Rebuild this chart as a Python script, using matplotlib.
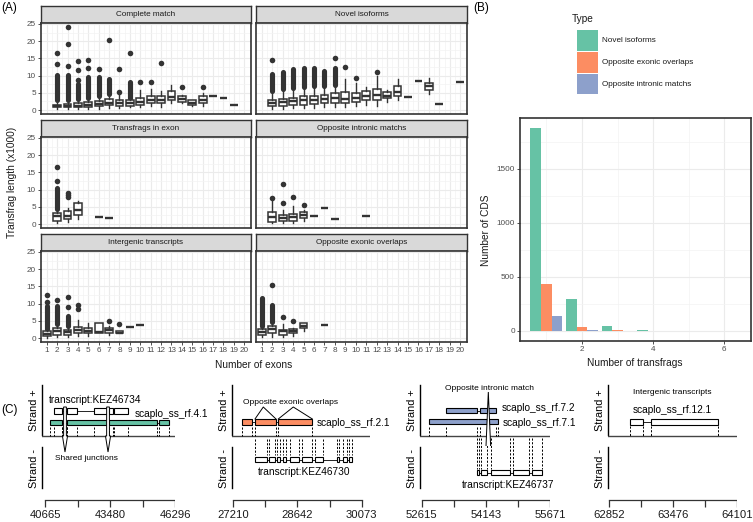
import numpy as np
import matplotlib
matplotlib.use('Agg')
import matplotlib.pyplot as plt
from matplotlib.patches import Rectangle, Polygon

plt.rcParams['font.family'] = ['Liberation Sans', 'DejaVu Sans']

# ---------------- Panel A data (transfrag length x1000) ----------------
# Complete match
CM_X   = [2, 3, 4, 5, 6, 7, 8, 9, 10, 11, 12, 13, 14, 15, 16]
CM_Q1  = [0.8, 0.8, 0.9, 1.0, 1.2, 1.5, 1.2, 1.2, 1.5, 1.9, 1.9, 2.9, 2.4, 1.4, 1.9]
CM_MED = [1.1, 1.2, 1.3, 1.5, 1.8, 2.1, 1.9, 1.9, 2.4, 3.0, 2.9, 3.8, 3.3, 2.0, 3.0]
CM_Q3  = [1.6, 1.8, 2.0, 2.3, 2.7, 3.1, 2.9, 2.9, 3.4, 4.1, 4.1, 5.5, 4.1, 2.9, 4.1]
CM_WLO = [0.2, 0.2, 0.3, 0.3, 0.4, 0.6, 0.7, 0.8, 0.9, 1.2, 1.0, 2.1, 2.0, 1.3, 1.2]
CM_WHI = [2.8, 3.0, 3.3, 3.6, 4.0, 4.7, 4.3, 3.4, 5.8, 6.2, 5.5, 7.3, 4.3, 2.9, 5.0]
CM_DENSE = [10.2, 10.2, 7.5, 9.5, 9.6, 9.0, 0, 8.2, 0, 0, 0, 0, 0, 0, 0]
CM_OUT = [[13.3, 16.5], [12.9, 19.2, 24.0], [8.7, 11.6, 14.2], [12.1, 14.6], [11.9],
          [20.4], [5.3, 12.0], [16.5], [8.2], [8.2], [13.8], [], [6.8], [], [6.8]]
CM_FLAT_X = [17, 18, 19]
CM_FLAT_Y = [4.1, 3.6, 1.5]

# Novel isoforms
NI_X   = [2, 3, 4, 5, 6, 7, 8, 9, 10, 11, 12, 13, 14, 17]
NI_Q1  = [1.2, 1.3, 1.4, 1.5, 1.7, 1.9, 2.0, 2.1, 2.4, 2.9, 2.8, 3.4, 4.2, 5.8]
NI_MED = [2.1, 2.3, 2.5, 2.8, 3.0, 3.2, 3.4, 3.3, 3.6, 4.1, 4.3, 4.2, 5.3, 7.0]
NI_Q3  = [2.9, 3.3, 3.6, 4.0, 4.2, 4.3, 4.8, 5.2, 4.8, 5.6, 6.1, 5.2, 6.9, 7.9]
NI_WLO = [0.4, 0.4, 0.5, 0.6, 0.7, 0.8, 0.8, 1.0, 1.2, 1.5, 1.3, 2.4, 3.0, 4.7]
NI_WHI = [5.5, 6.0, 6.3, 6.8, 7.0, 6.9, 7.2, 8.9, 7.8, 6.6, 9.9, 5.8, 8.9, 9.2]
NI_DENSE = [10.5, 11.0, 11.9, 12.2, 12.2, 11.2, 12.1, 0, 0, 0, 0, 0, 0, 0]
NI_OUT = [[14.5], [], [], [], [], [], [15.2], [12.4], [9.2], [], [11.0], [], [], []]
NI_FLAT_X = [15, 16, 18, 20]
NI_FLAT_Y = [3.7, 8.4, 1.7, 8.2]

# Transfrags in exon
TE_X   = [2, 3, 4]
TE_Q1  = [1.0, 1.4, 2.6]
TE_MED = [2.3, 2.4, 4.1]
TE_Q3  = [3.3, 3.8, 6.1]
TE_WLO = [0.2, 0.5, 1.6]
TE_WHI = [4.4, 4.7, 6.8]
TE_DENSE = [10.4, 0, 0]
TE_OUT = [[12.6, 16.7], [7.8, 8.4, 9.0], []]
TE_FLAT_X = [6, 7]
TE_FLAT_Y = [2.1, 1.8]

# Opposite intronic matchs
OI_X   = [2, 3, 4, 5]
OI_Q1  = [0.7, 1.0, 1.0, 1.7]
OI_MED = [1.9, 1.8, 1.9, 2.6]
OI_Q3  = [3.6, 2.6, 3.0, 3.6]
OI_WLO = [0.2, 0.4, 0.3, 1.0]
OI_WHI = [6.8, 4.1, 5.2, 4.0]
OI_DENSE = [0, 0, 0, 0]
OI_OUT = [[7.6], [6.0, 11.5], [7.9], [5.6]]
OI_FLAT_X = [6, 7, 8, 11]
OI_FLAT_Y = [2.3, 4.6, 1.6, 2.4]

# Intergenic transcripts
IT_X   = [1, 2, 3, 4, 5, 6, 7, 8]
IT_Q1  = [0.5, 1.0, 1.0, 1.4, 1.4, 1.4, 1.4, 1.4]
IT_MED = [1.2, 2.0, 1.7, 2.4, 2.0, 1.8, 2.2, 1.6]
IT_Q3  = [1.9, 2.8, 2.4, 3.3, 2.8, 4.4, 2.8, 1.9]
IT_WLO = [0.1, 0.3, 0.3, 0.5, 0.7, 1.4, 1.0, 1.4]
IT_WHI = [2.6, 4.1, 3.6, 5.2, 4.4, 4.4, 3.6, 1.9]
IT_DENSE = [9.4, 9.4, 6.5, 0, 0, 0, 0, 0]
IT_OUT = [[10.4, 12.6], [11.0], [8.9, 11.8], [8.4, 9.6], [], [], [5.0], [4.1]]
IT_FLAT_X = [9, 10]
IT_FLAT_Y = [3.1, 3.9]

# Opposite exonic overlaps
OE_X   = [1, 2, 3, 4, 5]
OE_Q1  = [1.0, 1.5, 1.0, 1.4, 2.9]
OE_MED = [1.8, 2.6, 1.9, 1.9, 3.6]
OE_Q3  = [2.6, 3.6, 2.4, 2.5, 4.4]
OE_WLO = [0.3, 0.4, 0.4, 0.7, 1.9]
OE_WHI = [3.6, 4.6, 4.1, 2.8, 4.4]
OE_DENSE = [11.6, 9.6, 0, 0, 0]
OE_OUT = [[], [15.5], [6.0], [4.8], []]
OE_FLAT_X = [7]
OE_FLAT_Y = [3.9]

EXON_TICKS = list(range(1, 21))

# ---------------- Panel B data ----------------
N_TRANSFRAGS = [1, 2, 3, 4, 5, 6]
CDS_NOVEL    = [1874, 297, 42, 10, 3, 2]
CDS_EXONIC   = [433, 31, 8, 3, 1, 1]
CDS_INTRONIC = [133, 4, 1, 1, 1, 1]
TYPE_LABELS = ['Novel isoforms', 'Opposite exonic overlaps', 'Opposite intronic matchs']

# ---------------- Panel C data (genomic coordinates) ----------------
C1_TICKS = [40665, 43480, 46296]
C1_RF    = [(40880, 41390), (41630, 43340), (43450, 45500), (45600, 46050)]
C1_KEZ   = [(41070, 41410), (41600, 42070), (42800, 43340), (43450, 43620), (43640, 44250)]
C1_SHARED = [41531, 43395]

C2_TICKS = [27210, 28642, 30073]
C2_RF    = [(27411, 27620), (27694, 28162), (28213, 28972)]
C2_KEZ   = [(27694, 27955), (28013, 28147), (28192, 28252), (28312, 28386), (28475, 28682),
            (28736, 28959), (29032, 29204), (29516, 29574), (29663, 29739), (29780, 29851)]

C3_TICKS = [52615, 54143, 55671]
C3_RF2   = [(53194, 53924), (54003, 54376)]
C3_RF1   = [(52796, 54162), (54217, 54424)]
C3_KEZ   = [(53926, 53981), (54022, 54181), (54276, 54719), (54800, 55171), (55252, 55473)]
C3_MATCH = 54202

C4_TICKS = [62852, 63476, 64101]
C4_RF    = [(63055, 63179), (63260, 63914)]

GREEN, ORANGE, BLUE = '#66C2A5', '#FC8D62', '#8DA0CB'
DARK = '#333333'

W, H = 753, 522
fig = plt.figure(figsize=(W / 100, H / 100), dpi=100)


def px_axes(x0, y0, x1, y1, **kw):
    return fig.add_axes([x0 / W, 1 - y1 / H, (x1 - x0) / W, (y1 - y0) / H], **kw)


def ftext(x, y, s, **kw):
    return fig.text(x / W, 1 - y / H, s, **kw)


SMALL = 5.9
TITLE = 7.3


def facet(xcol, yrow, title, xs, q1, med, q3, wlo, whi, dense, outs, fx, fy,
          left_ticks, bottom_ticks):
    x0, x1 = xcol
    strip = px_axes(x0, yrow, x1, yrow + 17)
    strip.set_facecolor('#D9D9D9')
    strip.set_xticks([]); strip.set_yticks([])
    for s in strip.spines.values():
        s.set_color(DARK); s.set_linewidth(1.0)
    strip.text(0.5, 0.5, title, ha='center', va='center', fontsize=SMALL, color='#1A1A1A')

    ax = px_axes(x0, yrow + 17, x1, yrow + 108)
    ax.set_xlim(0.45, 20.65)
    ax.set_ylim(-1.16, 25.29)
    ax.set_xticks(EXON_TICKS)
    ax.set_xticks(np.arange(1.5, 20, 1), minor=True)
    ax.set_yticks([0, 5, 10, 15, 20, 25])
    ax.set_yticks([2.5, 7.5, 12.5, 17.5, 22.5], minor=True)
    ax.grid(which='major', color='#EBEBEB', lw=0.8, zorder=0)
    ax.grid(which='minor', color='#F3F3F3', lw=0.5, zorder=0)
    ax.set_axisbelow(True)
    for s in ax.spines.values():
        s.set_color(DARK); s.set_linewidth(1.2)
    ax.tick_params(which='minor', length=0)
    ax.tick_params(which='major', length=2.2, width=0.6, color=DARK,
                   labelsize=SMALL, labelcolor='#4D4D4D', pad=1.5)
    if not left_ticks:
        ax.tick_params(axis='y', length=0, labelleft=False)
    if not bottom_ticks:
        ax.tick_params(axis='x', length=0, labelbottom=False)

    for x, top, lo in zip(xs, dense, whi):
        if top:
            ax.plot([x, x], [lo, top], lw=3.7, color=DARK, solid_capstyle='round', zorder=2)
    for x, o in zip(xs, outs):
        if o:
            ax.plot([x] * len(o), o, 'o', ms=4.0, color=DARK, mec='none', zorder=2)
    stats = [dict(q1=a, med=b, q3=c, whislo=d, whishi=e, fliers=[])
             for a, b, c, d, e in zip(q1, med, q3, wlo, whi)]
    stats += [dict(q1=v, med=v, q3=v, whislo=v, whishi=v, fliers=[]) for v in fy]
    ax.bxp(stats, positions=list(xs) + list(fx), widths=0.75, showfliers=False,
           showcaps=False, patch_artist=True, manage_ticks=False,
           boxprops=dict(facecolor='white', edgecolor=DARK, lw=1.1),
           medianprops=dict(color=DARK, lw=1.7),
           whiskerprops=dict(color=DARK, lw=1.0), zorder=3)
    return ax


LC, RC = (41, 251), (256, 467)
facet(LC, 6, 'Complete match', CM_X, CM_Q1, CM_MED, CM_Q3, CM_WLO, CM_WHI, CM_DENSE, CM_OUT,
      CM_FLAT_X, CM_FLAT_Y, True, False)
facet(RC, 6, 'Novel isoforms', NI_X, NI_Q1, NI_MED, NI_Q3, NI_WLO, NI_WHI, NI_DENSE, NI_OUT,
      NI_FLAT_X, NI_FLAT_Y, False, False)
facet(LC, 120, 'Transfrags in exon', TE_X, TE_Q1, TE_MED, TE_Q3, TE_WLO, TE_WHI, TE_DENSE, TE_OUT,
      TE_FLAT_X, TE_FLAT_Y, True, False)
facet(RC, 120, 'Opposite intronic matchs', OI_X, OI_Q1, OI_MED, OI_Q3, OI_WLO, OI_WHI, OI_DENSE,
      OI_OUT, OI_FLAT_X, OI_FLAT_Y, False, False)
facet(LC, 234, 'Intergenic transcripts', IT_X, IT_Q1, IT_MED, IT_Q3, IT_WLO, IT_WHI, IT_DENSE,
      IT_OUT, IT_FLAT_X, IT_FLAT_Y, True, True)
facet(RC, 234, 'Opposite exonic overlaps', OE_X, OE_Q1, OE_MED, OE_Q3, OE_WLO, OE_WHI, OE_DENSE,
      OE_OUT, OE_FLAT_X, OE_FLAT_Y, False, True)

ftext(12, 182, 'Transfrag length (x1000)', rotation=90, ha='center', va='center',
      fontsize=TITLE, color='#1A1A1A')
ftext(254, 365, 'Number of exons', ha='center', va='center', fontsize=TITLE, color='#1A1A1A')
ftext(1, 8, '(A)', ha='left', va='center', fontsize=8.5)
ftext(473, 8, '(B)', ha='left', va='center', fontsize=8.5)
ftext(1, 410, '(C)', ha='left', va='center', fontsize=8.5)

# ---------------- Panel B ----------------
axb = px_axes(520, 118, 751, 341)
xb = np.array(N_TRANSFRAGS, dtype=float)
bw = 0.3
for off, vals, col in [(-bw, CDS_NOVEL, GREEN), (0, CDS_EXONIC, ORANGE), (bw, CDS_INTRONIC, BLUE)]:
    axb.bar(xb + off, vals, width=bw, color=col, zorder=3)
axb.set_xlim(0.26, 6.75)
axb.set_ylim(-94, 1968)
axb.set_xticks([2, 4, 6])
axb.set_xticks([1, 3, 5], minor=True)
axb.set_yticks([0, 500, 1000, 1500])
axb.set_yticks([250, 750, 1250, 1750], minor=True)
axb.grid(which='major', color='#EBEBEB', lw=0.8)
axb.grid(which='minor', color='#F3F3F3', lw=0.5)
axb.set_axisbelow(True)
for s in axb.spines.values():
    s.set_color(DARK); s.set_linewidth(1.2)
axb.tick_params(which='minor', length=0)
axb.tick_params(which='major', length=2.2, width=0.6, color=DARK, labelsize=SMALL,
                labelcolor='#4D4D4D', pad=1.5)
ftext(486, 230, 'Number of CDS', rotation=90, ha='center', va='center', fontsize=TITLE,
      color='#1A1A1A')
ftext(635, 363, 'Number of transfrags', ha='center', va='center', fontsize=TITLE, color='#1A1A1A')

# legend
ftext(572, 19.5, 'Type', ha='left', va='center', fontsize=TITLE, color='#1A1A1A')
leg = px_axes(570, 28, 700, 98)
leg.set_xlim(570, 700); leg.set_ylim(98, 28); leg.axis('off')
for i, (lab, col) in enumerate(zip(TYPE_LABELS, [GREEN, ORANGE, BLUE])):
    y0 = 30 + i * 21.8
    leg.add_patch(Rectangle((577, y0), 21, 20.8, facecolor=col, edgecolor='none'))
    leg.text(602, y0 + 10.4, lab, ha='left', va='center', fontsize=SMALL, color='#1A1A1A')


# ---------------- Panel C ----------------
def exons(ax, ex, ytop, h, fc, lw=0.8):
    for s, e in ex:
        ax.add_patch(Rectangle((s, ytop), e - s, h, facecolor=fc, edgecolor='black', lw=lw, zorder=3))
    for (s1, e1), (s2, e2) in zip(ex[:-1], ex[1:]):
        ax.plot([e1, s2], [ytop + h / 2, ytop + h / 2], color='black', lw=0.6, zorder=2)


def bounds(ex):
    out = []
    for s, e in ex:
        out += [s, e]
    return out


LAB = 7.3
NOTE = 6.0


def subpanel(px0, px1, gL, gR, ticks):
    ax = px_axes(px0, 378, px1, 522)
    ax.set_xlim(gL, gR); ax.set_ylim(522, 378); ax.axis('off')
    ax.plot([gL, gL], [385, 435], color='black', lw=1.0, clip_on=False)
    ax.plot([gL, gL], [447, 488], color='black', lw=1.0, clip_on=False)
    ax.plot([gL, gR], [436, 436], color='#444444', lw=1.0)
    tk = np.linspace(ticks[0], ticks[-1], 5)
    ax.plot([tk[0], tk[-1]], [500, 500], color='#333333', lw=0.9)
    ax.vlines(tk, 500, 507, color='#333333', lw=0.9)
    for t in ticks:
        ax.text(t, 515, str(t), ha='center', va='center', fontsize=8.1, color='#1A1A1A')
    ftext(px0 - 8, 410, 'Strand +', rotation=90, ha='center', va='center', fontsize=7.8)
    ftext(px0 - 8, 468, 'Strand -', rotation=90, ha='center', va='center', fontsize=7.8)
    return ax


dash = (0, (2.2, 1.6))

# sub 1
a1 = subpanel(41.7, 175, 40522, 46296, C1_TICKS)
exons(a1, C1_RF, 420, 5, GREEN)
exons(a1, C1_KEZ, 408, 6, 'white')
a1.vlines(bounds(C1_RF) + bounds(C1_KEZ), 427, 436, color='black', lw=0.7, linestyles=dash)
for g in C1_SHARED:
    a1.add_patch(Polygon([(g - 60, 407), (g - 60, 436), (g - 110, 436), (g, 452),
                          (g + 110, 436), (g + 60, 436), (g + 60, 407)], closed=True,
                         facecolor='white', edgecolor='black', lw=0.7, zorder=4))
ftext(49, 400, 'transcript:KEZ46734', ha='left', va='center', fontsize=LAB)
ftext(135, 414, 'scaplo_ss_rf.4.1', ha='left', va='center', fontsize=LAB)
ftext(55, 458, 'Shared junctions', ha='left', va='center', fontsize=NOTE)

# sub 2
a2 = subpanel(232.3, 370, 27188, 30258, C2_TICKS)
exons(a2, C2_RF, 419, 6, ORANGE)
exons(a2, C2_KEZ, 457, 5, 'white')
a2.vlines(bounds(C2_RF), 427, 436, color='black', lw=0.7, linestyles=dash)
a2.vlines(bounds(C2_KEZ), 439, 455, color='black', lw=0.7, linestyles=dash)
for apex, (s, e) in zip([27879, 28548], C2_RF[1:]):
    a2.plot([s, apex, e], [419, 407, 419], color='black', lw=0.7)
ftext(243, 403, 'Opposite exonic overlaps', ha='left', va='center', fontsize=NOTE)
ftext(317, 423, 'scaplo_ss_rf.2.1', ha='left', va='center', fontsize=LAB)
ftext(258, 472, 'transcript:KEZ46730', ha='left', va='center', fontsize=LAB)

# sub 3
a3 = subpanel(420, 550, 52575, 55671, C3_TICKS)
exons(a3, C3_RF2, 408, 5, BLUE)
exons(a3, C3_RF1, 419, 5, BLUE)
exons(a3, C3_KEZ, 470, 5, 'white')
a3.vlines(bounds(C3_RF1) + bounds(C3_RF2), 427, 436, color='black', lw=0.7, linestyles=dash)
a3.vlines(bounds(C3_KEZ), 438, 469, color='black', lw=0.7, linestyles=dash)
a3.add_patch(Polygon([(C3_MATCH - 55, 446), (C3_MATCH, 392), (C3_MATCH + 55, 446)], closed=False,
                     facecolor='white', edgecolor='black', lw=0.7, zorder=4))
ftext(445, 389, 'Opposite intronic match', ha='left', va='center', fontsize=NOTE)
ftext(502, 408, 'scaplo_ss_rf.7.2', ha='left', va='center', fontsize=LAB)
ftext(503, 423, 'scaplo_ss_rf.7.1', ha='left', va='center', fontsize=LAB)
ftext(462, 485, 'transcript:KEZ46737', ha='left', va='center', fontsize=LAB)

# sub 4
a4 = subpanel(608.3, 736.7, 62842, 64101, C4_TICKS)
exons(a4, C4_RF, 419, 6, 'white')
a4.vlines(bounds(C4_RF), 426, 436, color='black', lw=0.7, linestyles=dash)
ftext(633, 393, 'Intergenic transcripts', ha='left', va='center', fontsize=NOTE)
ftext(633, 410, 'scaplo_ss_rf.12.1', ha='left', va='center', fontsize=LAB)

fig.savefig('out.png', dpi=100)
